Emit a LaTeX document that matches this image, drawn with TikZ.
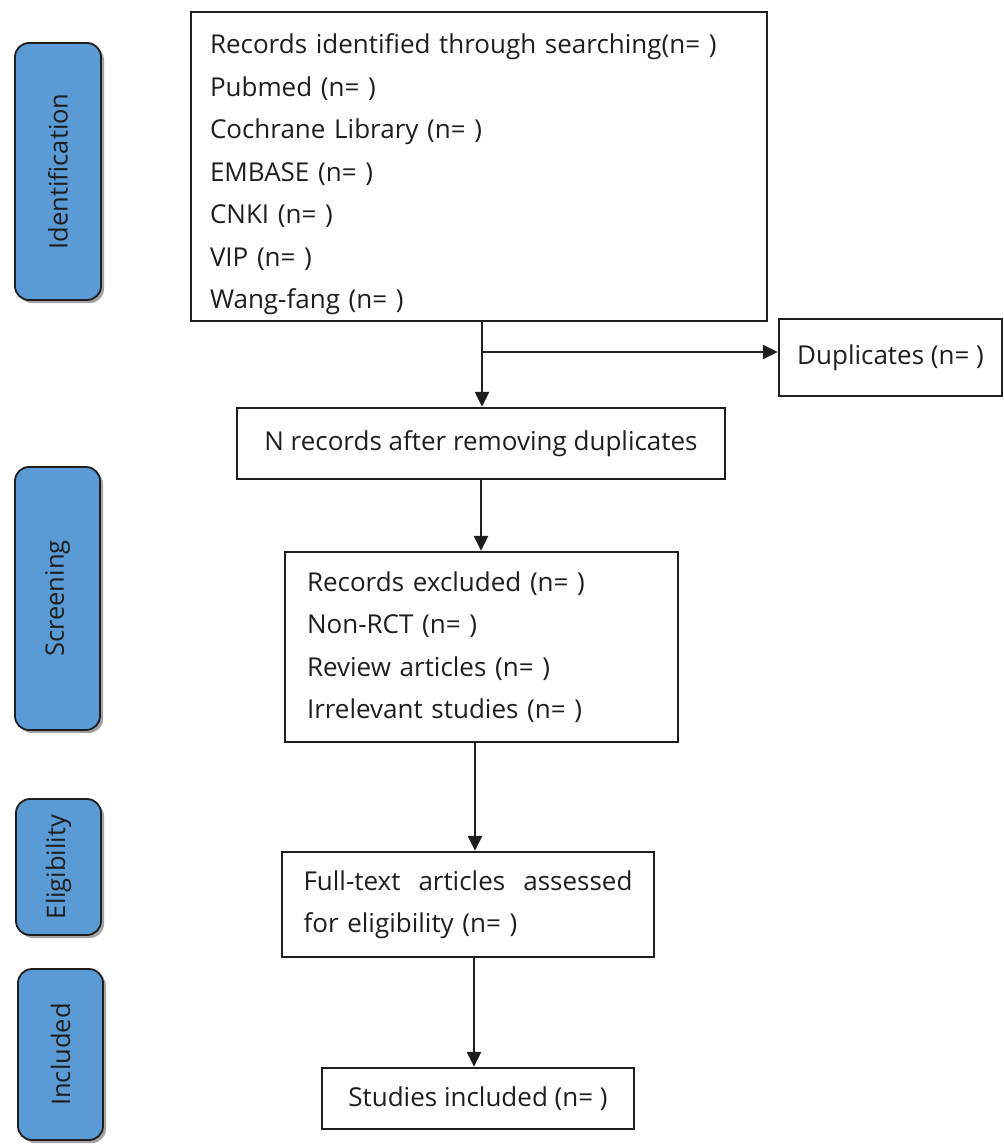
\documentclass[tikz,border=0pt]{standalone}
\usepackage{fontspec}
\setmainfont{Open Sans}
\usetikzlibrary{arrows.meta,shadows,calc}
\definecolor{sideblue}{RGB}{91,155,213}
\definecolor{ink}{RGB}{30,30,30}
\tikzset{
  flowbox/.style={draw=ink, line width=2.4pt, rectangle, inner sep=0pt, text=ink,
    font=\fontsize{26}{42.5}\selectfont},
  sidebox/.style={draw=ink, line width=1.8pt, fill=sideblue, rounded corners=14pt,
    inner sep=0pt, text=ink, font=\fontsize{25.5}{30}\selectfont,
    drop shadow={shadow xshift=3pt, shadow yshift=-3pt, fill=black!45, opacity=0.8}},
  arr/.style={draw=ink, line width=2.4pt, -{Triangle[length=15pt,width=14pt]}},
}
\begin{document}
\begin{tikzpicture}[x=1pt,y=-1pt]
\useasboundingbox (0,0) rectangle (1004,1146);
% side labels
\node[sidebox, minimum width=86pt, minimum height=257pt] (sid) at (58,171.5) {\rotatebox{90}{Identification}};
\node[sidebox, minimum width=85pt, minimum height=263pt] (sscr) at (57.5,598.5) {\rotatebox{90}{Screening}};
\node[sidebox, minimum width=85pt, minimum height=136pt] (selg) at (58.5,867) {\rotatebox{90}{Eligibility}};
\node[sidebox, minimum width=85pt, minimum height=171pt] (sinc) at (60.5,1054.5) {\rotatebox{90}{Included}};
% flow boxes
\node[flowbox, minimum width=576pt, minimum height=309pt, text width=538pt, align=left] (rec) at (479,166.5)
  {\rule{0pt}{36pt}Records identified through searching(n= )\\Pubmed (n= )\\Cochrane Library (n= )\\EMBASE (n= )\\CNKI (n= )\\VIP (n= )\\Wang-fang (n= )};
\node[flowbox, minimum width=223pt, minimum height=77pt] (dup) at (890.5,357.5) {\raisebox{5pt}{Duplicates (n= )}};
\node[flowbox, minimum width=488pt, minimum height=71pt] (nrec) at (481,443.5) {N records after removing duplicates};
\node[flowbox, minimum width=393pt, minimum height=190pt, text width=349pt, align=left] (scr) at (481.5,647)
  {Records excluded (n= )\\Non-RCT (n= )\\Review articles (n= )\\Irrelevant studies (n= )};
\node[flowbox, minimum width=372pt, minimum height=105pt, text width=329pt, align=left] (elg) at (468,904.5)
  {\makebox[329pt]{Full-text\hfill articles\hfill assessed}\\for eligibility (n= )};
\node[flowbox, minimum width=312pt, minimum height=61pt] (inc) at (478,1098.5) {Studies included (n= )};
% connectors
\coordinate (br) at (482,352);
\draw[arr] (rec.south -| br) -- (nrec.north -| br);
\draw[arr] (br) -- (br -| dup.west);
\draw[arr] (nrec.south) -- (scr.north -| nrec.south);
\draw[arr] ([xshift=-6.5pt]scr.south) -- ([xshift=-6.5pt]scr.south |- elg.north);
\draw[arr] ([xshift=6pt]elg.south) -- ([xshift=6pt]elg.south |- inc.north);
\end{tikzpicture}
\end{document}
